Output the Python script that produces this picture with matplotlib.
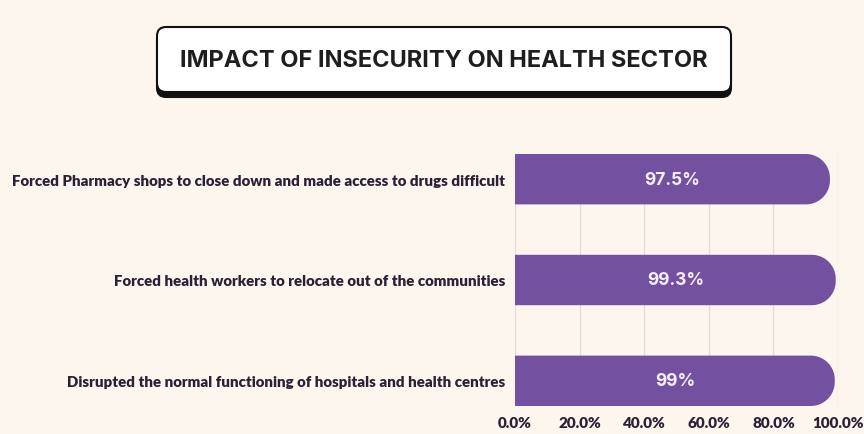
import matplotlib
matplotlib.use("Agg")
import numpy as np
import matplotlib.pyplot as plt
from matplotlib.patches import FancyBboxPatch, Polygon

categories = [
    "Forced Pharmacy shops to close down and made access to drugs difficult",
    "Forced health workers to relocate out of the communities",
    "Disrupted the normal functioning of hospitals and health centres",
]
values = [97.5, 99.3, 99.0]
value_labels = ["97.5%", "99.3%", "99%"]
xticks = [0, 20, 40, 60, 80, 100]
xtick_labels = ["0.0%", "20.0%", "40.0%", "60.0%", "80.0%", "100.0%"]
title = "IMPACT OF INSECURITY ON HEALTH SECTOR"

BG = "#FDF6EF"
PURPLE = "#7451A0"
DARK = "#2A2136"
GRID = "#E2DDD8"

W, H = 864, 435
fig = plt.figure(figsize=(W / 100, H / 100), dpi=100, facecolor=BG)

# Title box in pixel coords
tax = fig.add_axes([0, 0, 1, 1])
tax.set_xlim(0, W)
tax.set_ylim(H, 0)
tax.axis("off")
bx0, by0, bx1, by1 = 157, 28, 731, 93
shadow = FancyBboxPatch((bx0, by0 + 5), bx1 - bx0, by1 - by0,
                        boxstyle="round,pad=0,rounding_size=9",
                        facecolor="#111111", edgecolor="#111111", lw=1.5)
tax.add_patch(shadow)
box = FancyBboxPatch((bx0, by0), bx1 - bx0, by1 - by0,
                     boxstyle="round,pad=0,rounding_size=9",
                     facecolor="white", edgecolor="#111111", lw=1.5)
tax.add_patch(box)
tax.text((bx0 + bx1) / 2, 61, title, ha="center", va="center",
         fontsize=17, fontweight="bold", family=["Inter", "DejaVu Sans"],
         color="#1E1E1E")

# Main axes
ax = fig.add_axes([515 / W, 1 - 407 / H, 323 / W, 252 / H])
ax.set_facecolor(BG)
ax.set_xlim(0, 100)
bar_h = 0.5
ax.set_ylim(len(categories) - 1 + bar_h / 2, -bar_h / 2)

for x in xticks:
    ax.axvline(x, color=GRID, lw=1, zorder=0)

px_x = 323 / 100
px_y = 252 / (len(categories) - 1 + bar_h)
r_px = 24
rx = r_px / px_x
ry = r_px / px_y


def rounded_bar(v, yc):
    top, bot = yc - bar_h / 2, yc + bar_h / 2
    ex = v - rx
    t = np.linspace(0, np.pi / 2, 20)
    tr = [(ex + rx * np.sin(a), top + ry * (1 - np.cos(a))) for a in t]
    br = [(ex + rx * np.cos(a), bot - ry * (1 - np.sin(a))) for a in t]
    pts = [(0, top)] + tr + br + [(0, bot)]
    return Polygon(pts, closed=True, facecolor=PURPLE, edgecolor="none", zorder=2)


for i, (v, lab) in enumerate(zip(values, value_labels)):
    ax.add_patch(rounded_bar(v, i))
    ax.text(v / 2, i, lab, ha="center", va="center", color="#F4EEF8",
            fontsize=12.5, fontweight="bold", family=["Inter", "DejaVu Sans"],
            zorder=3)

ax.set_yticks(range(len(categories)))
ax.set_yticklabels(categories, fontsize=10.8, fontweight="heavy",
                   family=["Lato", "DejaVu Sans"], color=DARK)
ax.set_xticks(xticks)
ax.set_xticklabels(xtick_labels, fontsize=11, fontweight="heavy",
                   family=["Lato", "DejaVu Sans"], color=DARK)
ax.tick_params(axis="y", length=0, pad=7)
ax.tick_params(axis="x", length=0, pad=7)
for s in ax.spines.values():
    s.set_visible(False)

fig.savefig("out.png", dpi=100, facecolor=BG)
